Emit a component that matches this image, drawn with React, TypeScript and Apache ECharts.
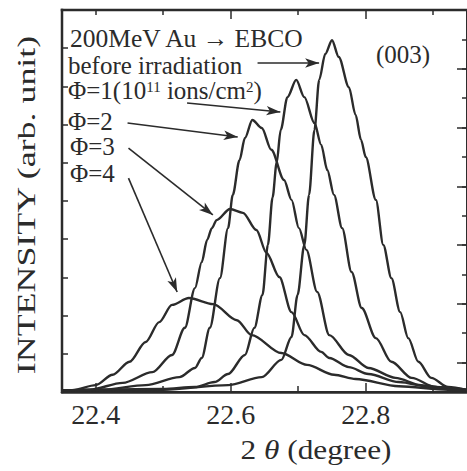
import React, { useEffect, useRef } from "react";
import * as echarts from "echarts";

// ---- data (2θ in degrees, intensity in arb. units) ----
const beforeIrradiation: number[][] = [
  [22.35, 0.04], [22.5, 0.06], [22.596, 0.18], [22.646, 0.39], [22.675, 0.84], [22.69, 1.44],
  [22.699, 2.54], [22.709, 3.85], [22.716, 5.16], [22.724, 6.86], [22.731, 8.17], [22.74, 8.85],
  [22.75, 9.21], [22.76, 8.77], [22.775, 7.98], [22.785, 7.25], [22.793, 6.6], [22.8, 6.15],
  [22.815, 5.03], [22.826, 3.85], [22.838, 2.98], [22.851, 2.09], [22.863, 1.41], [22.878, 0.79],
  [22.897, 0.37], [22.922, 0.13], [22.95, 0.05],
];
const phi1: number[][] = [
  [22.35, 0.04], [22.5, 0.08], [22.547, 0.13], [22.576, 0.26], [22.596, 0.47], [22.621, 0.97],
  [22.635, 1.68], [22.647, 2.54], [22.655, 3.85], [22.662, 5.1], [22.668, 6.0], [22.674, 6.86],
  [22.684, 7.72], [22.697, 8.17], [22.709, 7.72], [22.724, 7.04], [22.734, 6.47], [22.743, 5.81],
  [22.753, 5.16], [22.765, 4.29], [22.779, 3.14], [22.794, 2.2], [22.815, 1.41], [22.838, 0.79],
  [22.868, 0.37], [22.903, 0.13], [22.95, 0.05],
];
const phi2: number[][] = [
  [22.35, 0.04], [22.41, 0.06], [22.474, 0.18], [22.524, 0.39], [22.547, 0.63], [22.557, 0.89],
  [22.569, 1.68], [22.584, 2.98], [22.596, 4.29], [22.603, 5.16], [22.613, 6.07], [22.621, 6.65],
  [22.632, 7.12], [22.646, 6.91], [22.66, 6.34], [22.679, 5.55], [22.69, 5.03], [22.701, 4.29],
  [22.712, 3.72], [22.728, 2.62], [22.746, 1.49], [22.775, 0.97], [22.804, 0.63], [22.844, 0.37],
  [22.882, 0.18], [22.922, 0.1], [22.95, 0.06],
];
const phi3: number[][] = [
  [22.35, 0.04], [22.391, 0.06], [22.44, 0.24], [22.484, 0.52], [22.513, 0.97], [22.532, 1.68],
  [22.547, 2.72], [22.557, 3.4], [22.565, 3.98], [22.572, 4.29], [22.579, 4.5], [22.599, 4.79],
  [22.618, 4.69], [22.638, 4.24], [22.653, 3.64], [22.672, 3.01], [22.69, 2.09], [22.709, 1.49],
  [22.734, 1.05], [22.746, 0.89], [22.775, 0.65], [22.804, 0.47], [22.849, 0.26], [22.897, 0.13],
  [22.95, 0.05],
];
const phi4: number[][] = [
  [22.35, 0.04], [22.366, 0.05], [22.4, 0.18], [22.425, 0.45], [22.45, 0.79], [22.474, 1.31],
  [22.494, 1.83], [22.513, 2.28], [22.538, 2.46], [22.574, 2.3], [22.609, 1.88], [22.631, 1.49],
  [22.675, 1.02], [22.713, 0.71], [22.753, 0.45], [22.785, 0.34], [22.849, 0.15], [22.922, 0.06],
  [22.95, 0.04],
];

// arrows from the labels to the curves: [from, to] in data coordinates
const arrows: number[][][] = [
  [[22.6397, 8.613], [22.7309, 8.613]],
  [[22.5353, 7.565], [22.6735, 7.33]],
  [[22.4471, 7.04], [22.6103, 6.675]],
  [[22.4485, 6.387], [22.5735, 4.634]],
  [[22.4485, 5.6], [22.5206, 2.618]],
];

const xLongTicks = [22.4, 22.6, 22.8];
const xShortTicks = [22.5, 22.7, 22.9];
const xLabels = [22.4, 22.6, 22.8];
const rightLongTicks = [1, 3, 5, 7, 9, 11];

const INK = "#2b2b2b";
const FONT = "Liberation Serif";

// plot frame (pixels)
const GRID_LEFT = 62;
const GRID_TOP = 10;
const GRID_W = 407;
const GRID_H = 382;

export default function App() {
  const ref = useRef<HTMLDivElement>(null);
  useEffect(() => {
    if (!ref.current) return;
    const chart = echarts.init(ref.current, null, { renderer: "svg" });
    const lineSeries = (name: string, data: number[][], extra: any = {}) => ({
      name,
      type: "line",
      data,
      showSymbol: false,
      smooth: 0.3,
      smoothMonotone: "x",
      silent: true,
      lineStyle: { color: INK, width: 2.4 },
      ...extra,
    });
    const hiddenX = {
      type: "value",
      min: 22.35,
      max: 22.95,
      axisLabel: { show: false },
      splitLine: { show: false },
    };
    chart.setOption({
      animation: false,
      backgroundColor: "#ffffff",
      grid: {
        left: GRID_LEFT,
        top: GRID_TOP,
        width: GRID_W,
        height: GRID_H,
        show: true,
        borderWidth: 2,
        borderColor: INK,
        backgroundColor: "rgba(0,0,0,0)",
      },
      xAxis: [
        {
          ...hiddenX,
          position: "bottom",
          axisLine: { show: true, onZero: false, lineStyle: { color: INK, width: 2.5 } },
          axisTick: { show: true, inside: true, length: 9, customValues: xLongTicks, lineStyle: { color: INK, width: 1.5 } },
          axisLabel: {
            show: true,
            customValues: xLabels,
            formatter: (v: number) => v.toFixed(1),
            fontFamily: FONT,
            fontSize: 28,
            color: INK,
            margin: 8,
          },
        },
        {
          ...hiddenX,
          position: "bottom",
          axisLine: { show: false, onZero: false },
          axisTick: { show: true, inside: true, length: 6, customValues: xShortTicks, lineStyle: { color: INK, width: 1.5 } },
        },
        {
          ...hiddenX,
          position: "top",
          axisLine: { show: true, onZero: false, lineStyle: { color: INK, width: 2 } },
          axisTick: { show: true, inside: true, length: 9, customValues: [22.6, 22.8], lineStyle: { color: INK, width: 1.5 } },
        },
        {
          ...hiddenX,
          position: "top",
          axisLine: { show: false, onZero: false },
          axisTick: { show: true, inside: true, length: 5, customValues: [22.4, 22.5, 22.7, 22.9], lineStyle: { color: INK, width: 1.5 } },
        },
      ],
      yAxis: [
        {
          type: "value",
          position: "left",
          min: 0,
          max: 10,
          interval: 1,
          axisLine: { show: true, onZero: false, lineStyle: { color: INK, width: 2 } },
          axisTick: { show: true, inside: true, length: 6, lineStyle: { color: INK, width: 1.5 } },
          axisLabel: { show: false },
          splitLine: { show: false },
        },
        {
          type: "value",
          position: "right",
          min: 0,
          max: 13,
          interval: 1,
          axisLine: { show: true, onZero: false, lineStyle: { color: INK, width: 2 } },
          axisTick: { show: true, inside: true, length: 5, lineStyle: { color: INK, width: 1.5 } },
          axisLabel: { show: false },
          splitLine: { show: false },
        },
        {
          type: "value",
          position: "right",
          offset: 0,
          min: 0,
          max: 13,
          axisLine: { show: false, onZero: false },
          axisTick: { show: true, inside: true, length: 10, customValues: rightLongTicks, lineStyle: { color: INK, width: 1.5 } },
          axisLabel: { show: false },
          splitLine: { show: false },
        },
      ],
      series: [
        lineSeries("before irradiation", beforeIrradiation, {
          markLine: {
            silent: true,
            symbol: ["none", "arrow"],
            symbolSize: [7, 14],
            label: { show: false },
            lineStyle: { color: INK, width: 1.6, type: "solid" },
            data: arrows.map((a) => [{ coord: a[0] }, { coord: a[1] }]),
          },
        }),
        lineSeries("Φ=1", phi1),
        lineSeries("Φ=2", phi2),
        lineSeries("Φ=3", phi3),
        lineSeries("Φ=4", phi4),
      ],
      graphic: [
        {
          type: "rect",
          silent: true,
          z: 100,
          shape: { x: GRID_LEFT - 1.25, y: GRID_TOP - 1.25, width: 2.5, height: GRID_H + 2.5 },
          style: { fill: INK },
        },
        {
          type: "rect",
          silent: true,
          z: 100,
          shape: { x: GRID_LEFT - 1.25, y: GRID_TOP - 1.25, width: GRID_W + 2.5, height: 2.5 },
          style: { fill: INK },
        },
        {
          type: "text",
          x: 26,
          y: 205,
          rotation: Math.PI / 2,
          scaleX: 1.38,
          style: {
            text: "INTENSITY (arb. unit)",
            font: `26px "${FONT}"`,
            fill: INK,
            align: "center",
            verticalAlign: "middle",
          },
        },
        {
          type: "text",
          x: 316,
          y: 450,
          scaleX: 1.16,
          style: {
            text: "{n|2 }{t|θ}{n| (degree)}",
            align: "center",
            verticalAlign: "middle",
            fill: INK,
            rich: {
              n: { fontFamily: FONT, fontSize: 27, fill: INK },
              t: { fontFamily: FONT, fontSize: 27, fontStyle: "italic", fill: INK },
            },
          },
        },
        {
          type: "text",
          x: 70,
          y: 38,
          style: { text: "200MeV Au → EBCO", font: `25.5px "${FONT}"`, lineHeight: 16, fill: INK, verticalAlign: "middle" },
        },
        {
          type: "text",
          x: 68,
          y: 65,
          style: { text: "before irradiation", font: `25px "${FONT}"`, lineHeight: 16, fill: INK, verticalAlign: "middle" },
        },
        {
          type: "text",
          x: 68,
          y: 91,
          style: {
            text: "{n|Φ=1(10}{s|11}{n| ions/cm}{s|2}{n|)}",
            verticalAlign: "middle",
            fill: INK,
            rich: {
              n: { fontFamily: FONT, fontSize: 25, fill: INK, lineHeight: 24, verticalAlign: "bottom" },
              s: { fontFamily: FONT, fontSize: 15, fill: INK, lineHeight: 24, verticalAlign: "top" },
            },
          },
        },
        {
          type: "text",
          x: 68,
          y: 121,
          style: { text: "Φ=2", font: `25px "${FONT}"`, lineHeight: 18, fill: INK, verticalAlign: "middle" },
        },
        {
          type: "text",
          x: 70,
          y: 146,
          style: { text: "Φ=3", font: `25px "${FONT}"`, lineHeight: 18, fill: INK, verticalAlign: "middle" },
        },
        {
          type: "text",
          x: 70,
          y: 173,
          style: { text: "Φ=4", font: `25px "${FONT}"`, lineHeight: 18, fill: INK, verticalAlign: "middle" },
        },
        {
          type: "text",
          x: 403,
          y: 54,
          style: { text: "(003)", font: `25px "${FONT}"`, fill: INK, align: "center", verticalAlign: "middle" },
        },
      ],
    });
    return () => chart.dispose();
  }, []);
  return (
    <div
      ref={ref}
      style={{ position: "absolute", left: 0, top: 0, width: 467, height: 471, background: "#fff" }}
    />
  );
}
